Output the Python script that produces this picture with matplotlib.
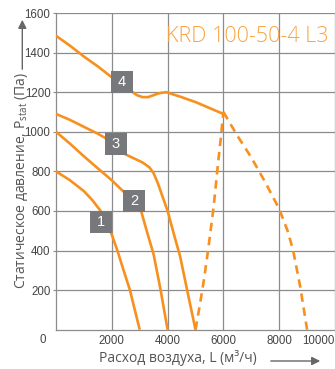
import matplotlib
matplotlib.use("Agg")
import matplotlib.pyplot as plt
from matplotlib.patches import Rectangle, FancyArrowPatch

plt.rcParams['mathtext.default'] = 'regular'

# ---- data ----
c1_x = [0, 500, 1000, 1300, 1600, 1800, 2000, 2200, 2400, 2650, 3000]
c1_y = [800, 755, 700, 655, 600, 545, 480, 400, 310, 200, 0]

c2_x = [0, 500, 1000, 1500, 2000, 2400, 2800, 3050, 3250, 3500, 3750, 4000]
c2_y = [1000, 940, 876, 815, 755, 700, 650, 600, 500, 380, 200, 0]

c3_x = [0, 500, 1000, 1500, 1750, 2100, 2500, 2800, 3100, 3350, 3500, 3650, 3800, 4000, 4250, 4450, 4700, 5000]
c3_y = [1090, 1060, 1025, 990, 970, 930, 885, 865, 845, 820, 790, 740, 680, 600, 470, 370, 200, 0]

c4_x = [0, 500, 1000, 1500, 2000, 2400, 2700, 2900, 3100, 3300, 3500, 3700, 3950, 4500, 5000, 5500, 6000]
c4_y = [1485, 1435, 1380, 1330, 1275, 1240, 1205, 1185, 1175, 1175, 1185, 1195, 1200, 1175, 1150, 1120, 1090]

dl_x = [5000, 5150, 5300, 5450, 5650, 5800, 5900, 6000]
dl_y = [0, 120, 250, 400, 620, 830, 960, 1100]

dr_x = [6000, 6500, 7000, 7500, 8000, 8300, 8500, 8750, 9000]
dr_y = [1100, 980, 870, 745, 610, 500, 400, 220, 0]

curve_labels = ["1", "2", "3", "4"]
label_x = [1606, 2803, 2145, 2372]
label_y = [543, 651, 937, 1250]

x_ticks = [2000, 4000, 6000, 8000, 10000]
y_ticks = [200, 400, 600, 800, 1000, 1200, 1400, 1600]

title = "KRD 100-50-4 L3"
xlabel = "Расход воздуха, L (м³/ч)"
ylabel = "Статическое давление, P$_{stat}$ (Па)"

# ---- figure ----
W, H = 335, 369
fig = plt.figure(figsize=(W / 100, H / 100), dpi=100)
ax = fig.add_axes([56 / W, (H - 329.7) / H, 279 / W, 316.7 / H])
ax.set_xlim(0, 10000)
ax.set_ylim(0, 1600)

orange = "#f7901e"
lw = 1.9
for xs, ys in [(c1_x, c1_y), (c2_x, c2_y), (c3_x, c3_y), (c4_x, c4_y)]:
    ax.plot(xs, ys, color=orange, lw=lw, solid_capstyle='butt', zorder=3)
for xs, ys in [(dl_x, dl_y), (dr_x, dr_y)]:
    ax.plot(xs, ys, color=orange, lw=lw, dashes=(3.2, 2.2), zorder=3)

# number boxes
bw, bh = 21.7 / 279 * 10000, 21.7 / 316.7 * 1600
for t, x, y in zip(curve_labels, label_x, label_y):
    ax.add_patch(Rectangle((x - bw / 2, y - bh / 2), bw, bh, facecolor="#77787b",
                           edgecolor='none', zorder=4))
    ax.text(x, y, t, color='white', ha='center', va='center', fontsize=10.5,
            family='Liberation Sans', zorder=5)

# grid & axes
ax.set_xticks(x_ticks)
ax.set_yticks(y_ticks)
ax.grid(True, color="#8c8c8c", lw=0.9)
ax.set_axisbelow(True)
for s in ['top', 'right']:
    ax.spines[s].set_visible(False)
for s in ['left', 'bottom']:
    ax.spines[s].set_color("#8c8c8c")
    ax.spines[s].set_linewidth(0.9)
ax.tick_params(axis='x', length=0, pad=4, labelsize=8.3, labelcolor="#444444")
ax.tick_params(axis='y', length=2.5, width=0.8, color="#8c8c8c", pad=1.5,
               labelsize=8.3, labelcolor="#444444")
ax.set_xticklabels([str(v) for v in x_ticks], family='Liberation Sans')
ax.set_yticklabels([str(v) for v in y_ticks], family='Liberation Sans')
ax.get_xticklabels()[-1].set_horizontalalignment('right')

fig.text(43 / W, 1 - 340 / H, "0", ha='center', va='center', fontsize=8.3,
         color="#444444", family='Liberation Sans')

# title
ax.text(0.975, 0.925, title, transform=ax.transAxes, ha='right', va='center',
        fontsize=15.5, color="#f8a443", family='Open Sans', fontweight='light')

# axis labels
fig.text(178 / W, 1 - 358 / H, xlabel, ha='center', va='center', fontsize=10,
         color="#555555", family='Open Sans')
fig.text(22 / W, 1 - 181 / H, ylabel, ha='center', va='center', fontsize=10,
         color="#555555", family='Open Sans', rotation=90)

# arrows
for p0, p1 in [((268, 361), (323, 361)), ((22.3, 72), (22.3, 17))]:
    fig.add_artist(FancyArrowPatch(
        (p0[0] / W, 1 - p0[1] / H), (p1[0] / W, 1 - p1[1] / H),
        transform=fig.transFigure,
        arrowstyle='-|>,head_length=5,head_width=2.5', color="#666666", lw=1.0,
        mutation_scale=1))

fig.savefig("out.png", dpi=100)
